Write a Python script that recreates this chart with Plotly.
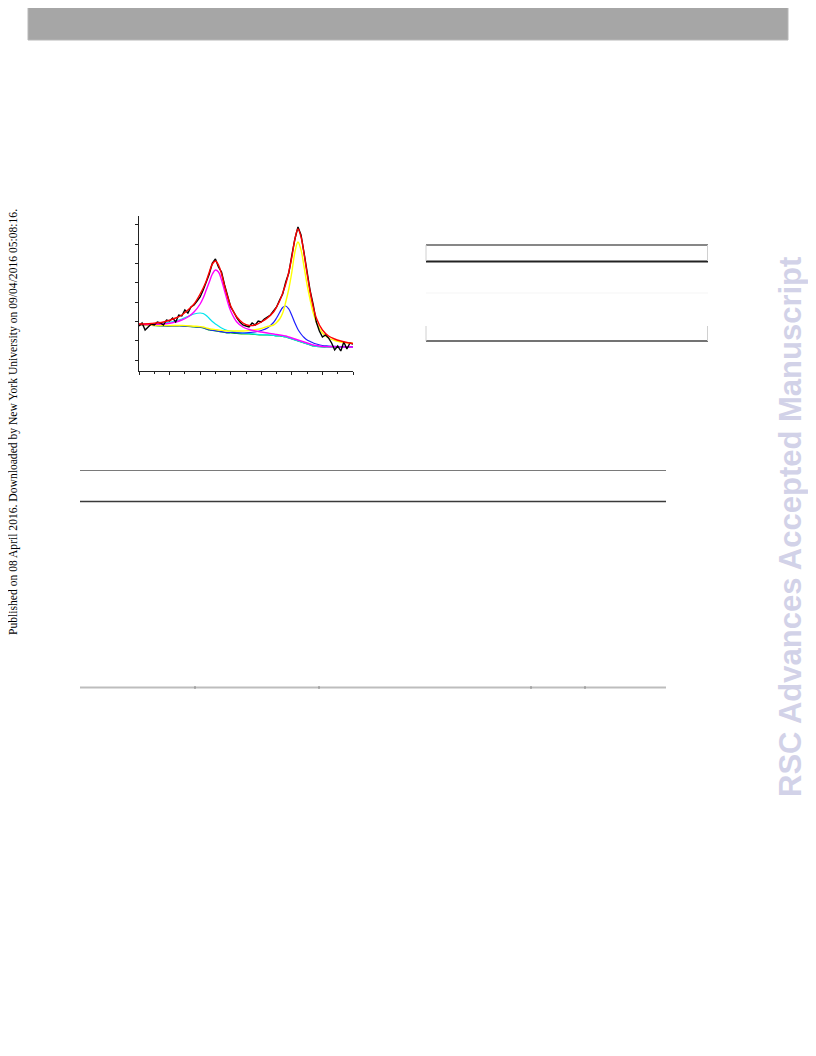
import plotly.graph_objects as go

# The page body adds an 8px margin around the plot div.
OFF = 8
W, H = 816 - OFF, 1056 - OFF

# ---------------- data (binding energy, eV; intensity, a.u.) ----------------
be_raw = [740, 739.5, 739, 738.5, 738, 737.5, 737, 736.5, 736, 735.5, 735, 734.5, 734,
          733.5, 733, 732.5, 732, 731.5, 731, 730.5, 730, 729.5, 729, 728.5, 728, 727.5,
          727, 726.5, 726, 725.5, 725, 724.5, 724, 723.5, 723, 722.5, 722, 721.5, 721,
          720.5, 720, 719.5, 719, 718.5, 718, 717.5, 717, 716.5, 716, 715.5, 715, 714.5,
          714, 713.5, 713, 712.5, 712, 711.5, 711, 710.5, 710, 709.5, 709, 708.5, 708,
          707.5, 707, 706.5, 706, 705.5, 705]
raw_counts = [45, 48, 41, 44, 47, 46, 49, 48, 46, 51, 50, 53, 49,
              56, 55, 61, 58, 64, 66, 70, 74, 81, 89, 97, 108, 112,
              104, 99, 86, 76, 64, 59, 53, 49, 46, 45, 44, 48, 46,
              50, 49, 52, 54, 56, 60, 64, 71, 77, 89, 98, 116, 132,
              144, 136, 118, 99, 80, 66, 49, 40, 34, 36, 33, 28, 21,
              25, 20, 29, 22, 28, 27]

be_fit = [740, 738, 736, 734, 733, 732, 731, 730, 729.5, 729, 728.5, 728, 727.5, 727,
          726.5, 726, 725.5, 725, 724, 723, 722, 721, 720, 719, 718, 717.5, 717, 716.5,
          716, 715.5, 715, 714.5, 714, 713.5, 713, 712.5, 712, 711.5, 711, 710, 709, 708,
          707, 706, 705]

envelope = [47, 47.5, 49, 53, 56, 61, 67, 77, 83, 90, 99, 107, 110, 106,
            97, 85, 74, 65, 54, 48, 45.5, 46, 49, 53, 59, 64, 70, 78,
            87, 99, 114, 132, 142, 134, 117, 97, 79, 64, 53, 41, 35, 32,
            30, 28.5, 27.5]
background = [46, 45.5, 45, 45, 45, 44.5, 44, 43.5, 43, 42, 41, 40.5, 40, 39.5,
              39, 38.5, 38, 38, 37.5, 37, 37, 36.5, 36, 36, 35.5, 35, 35, 34.5,
              34, 33, 32, 31, 30, 29, 28, 27, 26, 25, 24.5, 24, 24, 24,
              24, 24, 24]
peak_a = [46.5, 46.5, 47, 49, 51, 54, 59, 67, 73, 81, 89, 97, 101, 99,
          91, 80, 69, 60, 49, 44, 41.5, 40, 39, 38, 37, 36.5, 36, 35.5,
          35, 34, 33, 32, 31, 30, 29, 28, 27, 26, 25.5, 24.5, 24.3, 24.2,
          24.1, 24, 24]
peak_b = [46.5, 47, 48, 50, 52, 54.5, 57, 58, 57.5, 55.5, 52.5, 49.5, 47, 45,
          43, 41.5, 40.5, 40, 38.5, 37.8, 37.3, 36.8, 36.3, 36.1, 35.6, 35.1, 35.1, 34.6,
          34.1, 33.1, 32.1, 31.1, 30.1, 29.1, 28.1, 27.1, 26.1, 25.1, 24.6, 24.1, 24.1, 24,
          24, 24, 24]
peak_c = [46.2, 45.7, 45.2, 45.2, 45.2, 44.8, 44.3, 43.8, 43.3, 42.3, 41.3, 40.8, 40.3, 39.8,
          39.3, 38.9, 38.4, 38.5, 38.2, 38, 38.3, 39, 40.5, 43, 48.5, 53, 58.5, 63.5,
          65, 62, 55.5, 48, 41.5, 37, 33.5, 31, 29.5, 28, 27, 25.5, 25, 24.6,
          24.4, 24.2, 24.1]
peak_d = [46.3, 45.8, 45.4, 45.5, 45.6, 45.2, 44.8, 44.4, 44, 43.1, 42.2, 41.8, 41.4, 41,
          40.6, 40.3, 40, 40.1, 40, 40, 40.5, 41.2, 42.5, 44.5, 46, 48.5, 52, 58,
          69, 82, 99, 119, 129, 121, 104, 86, 71, 58, 49, 38, 33, 30.5,
          29, 28.3, 27.8]

# ---------------- helpers (page pixel -> paper fraction) ----------------
def px(x):
    return (x - OFF) / W

def py(y):
    return 1 - (y - OFF) / H

fig = go.Figure()

curves = [
    (background, "#00c800", 1.2),
    (peak_b, "#00e5ee", 1.2),
    (peak_c, "#1e1eff", 1.2),
    (peak_d, "#ffff00", 1.4),
    (peak_a, "#ff00ff", 1.4),
]
for ys, col, w in curves:
    fig.add_trace(go.Scatter(x=be_fit, y=ys, mode="lines", line_shape="spline",
                             line=dict(color=col, width=w)))
fig.add_trace(go.Scatter(x=be_raw, y=raw_counts, mode="lines",
                         line=dict(color="#000000", width=1.4)))
fig.add_trace(go.Scatter(x=be_fit, y=envelope, mode="lines", line_shape="spline",
                         line=dict(color="#ff0000", width=1.4)))

fig.update_xaxes(domain=[px(139), px(353)], range=[740, 705], showgrid=False,
                 zeroline=False, showline=True, linecolor="#222", linewidth=1,
                 ticks="outside", ticklen=3, tickcolor="#222", tick0=740, dtick=5,
                 minor=dict(ticks="outside", ticklen=2, dtick=2.5, tickcolor="#222"),
                 showticklabels=False)
fig.update_yaxes(domain=[py(371), py(216)], range=[0, 155], showgrid=False,
                 zeroline=False, showline=True, linecolor="#222", linewidth=1,
                 ticks="outside", ticklen=3, tickcolor="#222", tick0=11, dtick=19.3,
                 showticklabels=False)

shapes = []
# header bar
shapes.append(dict(type="rect", xref="paper", yref="paper", x0=px(28), x1=px(788),
                   y0=py(40), y1=py(0), fillcolor="#a6a6a6",
                   line=dict(color="#b8b8b8", width=1), layer="below"))

def hline(y, x0, x1, color, width):
    shapes.append(dict(type="line", xref="paper", yref="paper", x0=px(x0), x1=px(x1),
                       y0=py(y), y1=py(y), line=dict(color=color, width=width)))

def vline(x, y0, y1, color, width):
    shapes.append(dict(type="line", xref="paper", yref="paper", x0=px(x), x1=px(x),
                       y0=py(y0), y1=py(y1), line=dict(color=color, width=width)))

# right table
hline(245, 426, 708, "#111", 1.2)
hline(261.5, 426, 708, "#222", 2)
hline(293, 426, 708, "#f5f5f5", 1)
hline(341, 426, 708, "#444", 1.5)
vline(426, 245, 261, "#d0d0d0", 1)
vline(707.5, 245, 261, "#d0d0d0", 1)
vline(426, 326, 341, "#d0d0d0", 1)
vline(707.5, 326, 341, "#d0d0d0", 1)

# lower table
hline(470.5, 80, 666, "#7a7a7a", 1)
hline(501.5, 80, 666, "#3a3a3a", 1.5)
hline(687.5, 80, 666, "#bdbdbd", 2)
for xt in [195, 319, 531, 585]:
    vline(xt, 686, 689, "#888", 1)

annotations = [
    dict(text="Published on 08 April 2016. Downloaded by New York University on 09/04/2016 05:08:16.",
         xref="paper", yref="paper", x=px(13), y=py(422), showarrow=False,
         textangle=-90, xanchor="center", yanchor="middle",
         font=dict(family="Liberation Serif, Times New Roman, serif", size=11.6, color="#000")),
    dict(text="<b>RSC Advances Accepted Manuscript</b>",
         xref="paper", yref="paper", x=px(790), y=py(527), showarrow=False,
         textangle=-90, xanchor="center", yanchor="middle",
         font=dict(family="Liberation Sans, Arial, sans-serif", size=31, color="#d2d2e8")),
]

fig.update_layout(width=W, height=H, margin=dict(l=0, r=0, t=0, b=0),
                  paper_bgcolor="white", plot_bgcolor="rgba(0,0,0,0)",
                  showlegend=False, shapes=shapes, annotations=annotations)

fig.write_html("out.html")
